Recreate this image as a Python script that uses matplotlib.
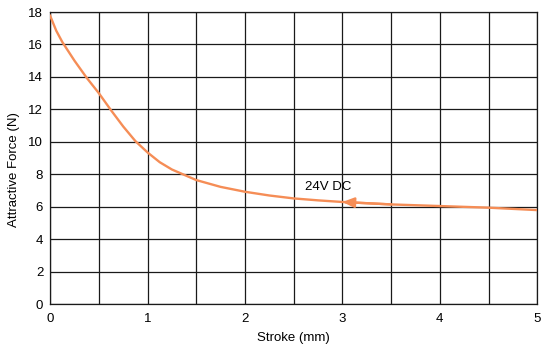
import numpy as np
import matplotlib.pyplot as plt
from matplotlib.ticker import MultipleLocator

# Attractive force curve (24V DC)
stroke = [0.0, 0.0625, 0.125, 0.25, 0.375, 0.5, 0.625, 0.75, 0.875, 1.0,
          1.125, 1.25, 1.5, 1.75, 2.0, 2.25, 2.5, 2.75, 3.0, 3.5, 4.0, 4.5, 5.0]
force = [17.77, 16.85, 16.15, 15.0, 13.95, 13.0, 11.95, 10.95, 10.05, 9.35,
         8.75, 8.3, 7.65, 7.23, 6.93, 6.7, 6.52, 6.4, 6.3, 6.15, 6.05, 5.95, 5.8]
x_ticks = [0, 1, 2, 3, 4, 5]
y_ticks = [0, 2, 4, 6, 8, 10, 12, 14, 16, 18]
curve_label = '24V DC'

plt.rcParams['font.family'] = ['Liberation Sans', 'DejaVu Sans']
orange = '#f58d56'

fig = plt.figure(figsize=(5.51, 3.53), dpi=100)
fig.patch.set_facecolor('white')
ax = fig.add_axes([0.091, 0.138, 0.884, 0.828])

ax.plot(stroke, force, color=orange, lw=1.7, zorder=3)

# arrowhead on the curve, pointing left at x = 3
ax.annotate('', xy=(stroke[18], force[18]), xytext=(stroke[19], force[19]),
            arrowprops=dict(arrowstyle='-|>,head_length=0.7,head_width=0.3',
                            color=orange, lw=1.7, shrinkA=0, shrinkB=0),
            zorder=4)
ax.text(2.62, 7.2, curve_label, fontsize=9.5, va='center', ha='left')

ax.set_xlim(0, 5)
ax.set_ylim(0, 18)
ax.set_xticks(x_ticks)
ax.set_yticks(y_ticks)
ax.xaxis.set_minor_locator(MultipleLocator(0.5))
ax.grid(True, which='both', color='#1a1a1a', lw=0.9)
ax.tick_params(which='both', length=0, labelsize=9.5)
ax.tick_params(axis='x', pad=6)
ax.tick_params(axis='y', pad=5)
for s in ax.spines.values():
    s.set_color('#1a1a1a')
    s.set_linewidth(0.9)

ax.set_xlabel('Stroke (mm)', fontsize=9.5)
ax.set_ylabel('Attractive Force (N)', fontsize=9.5)
ax.xaxis.set_label_coords(0.5, -0.095)
ax.yaxis.set_label_coords(-0.062, 0.46)

fig.savefig('out.png', dpi=100)
